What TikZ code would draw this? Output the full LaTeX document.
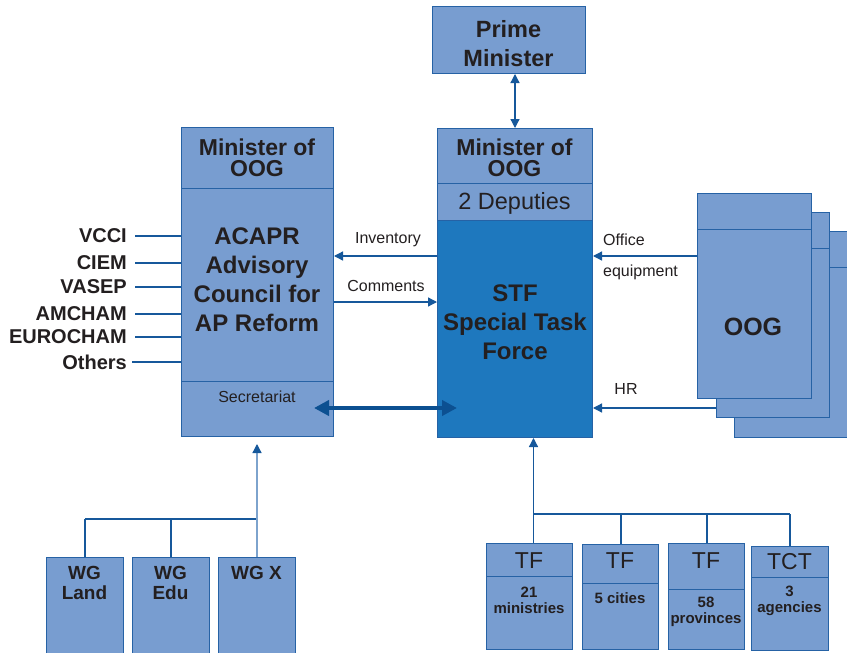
\documentclass[tikz,border=0pt]{standalone}
\usepackage{fontspec}
\setmainfont{Liberation Sans}
\usetikzlibrary{arrows.meta,calc}
\definecolor{lightc}{RGB}{120,157,208}
\definecolor{darkc}{RGB}{30,120,190}
\definecolor{bordc}{RGB}{38,98,165}
\definecolor{linec}{RGB}{22,88,155}
\definecolor{thickc}{RGB}{12,80,145}
\definecolor{wgline}{RGB}{125,163,205}
\definecolor{txt}{RGB}{35,31,32}
\begin{document}
\begin{tikzpicture}[x=1pt,y=-1pt,
  box/.style={draw=bordc, fill=lightc, line width=1pt, inner sep=0pt, anchor=north west},
  tx/.style={inner sep=0pt, text=txt, align=center},
  bigb/.style={tx, font=\bfseries\fontsize{24}{29}\selectfont},
  minb/.style={tx, font=\bfseries\fontsize{23}{21}\selectfont},
  lbl/.style={tx, font=\fontsize{16}{18}\selectfont},
  side/.style={inner sep=0pt, text=txt, anchor=east, font=\bfseries\fontsize{20}{22}\selectfont},
  tfh/.style={tx, font=\fontsize{23}{25}\selectfont},
  tfb/.style={tx, font=\bfseries\fontsize{15}{16}\selectfont},
  wgt/.style={tx, font=\bfseries\fontsize{19}{20.5}\selectfont},
  arr/.style={draw=linec, line width=1.3pt, -{Triangle[length=9pt,width=9pt]}},
  darr/.style={draw=linec, line width=1.3pt, {Triangle[length=9pt,width=9pt]}-{Triangle[length=9pt,width=9pt]}},
  conn/.style={draw=linec, line width=1.3pt},
  bus/.style={draw=linec, line width=2pt},
  thickarr/.style={draw=thickc, line width=4pt, {Triangle[length=15pt,width=15pt]}-{Triangle[length=15pt,width=15pt]}}
]
\clip (0,0) rectangle (847,653);
\fill[white] (0,0) rectangle (847,653);

% Prime Minister
\node[box, minimum width=153pt, minimum height=67pt] (pm) at (432,6) {};
\node[bigb, font=\bfseries\fontsize{23.5}{29}\selectfont] (pmtext) at (508.5,44) {Prime\\Minister};

% STF column
\node[box, minimum width=155pt, minimum height=55pt] (stfTop) at (437,128) {};
\node[box, minimum width=155pt, minimum height=37pt] (stfDep) at (437,183) {};
\node[box, fill=darkc, minimum width=155pt, minimum height=217pt] (stf) at (437,220) {};
\node[minb] (stfTopText) at (514.5,157.5) {Minister of\\OOG};
\node[tx, font=\fontsize{23.5}{25}\selectfont] (depText) at (514.5,203) {2 Deputies};
\node[bigb] (stfText) at (515,322.5) {STF\\Special Task\\Force};

% ACAPR column
\node[box, minimum width=152pt, minimum height=61pt] (acaprTop) at (181,127) {};
\node[box, minimum width=152pt, minimum height=193pt] (acaprMid) at (181,188) {};
\node[box, minimum width=152pt, minimum height=55pt] (acaprSec) at (181,381) {};
\node[minb] (acaprTopText) at (257,157.5) {Minister of\\OOG};
\node[bigb] (acaprText) at (257,280) {ACAPR\\Advisory\\Council for\\AP Reform};
\node[lbl] (secText) at (257,397) {Secretariat};

% OOG stack
\node[box, minimum width=140pt, minimum height=36pt] (oog3h) at (734,231) {};
\node[box, minimum width=140pt, minimum height=170pt] (oog3) at (734,267) {};
\node[box, minimum width=113pt, minimum height=36pt] (oog2h) at (716,212) {};
\node[box, minimum width=113pt, minimum height=169pt] (oog2) at (716,248) {};
\node[box, minimum width=114pt, minimum height=36pt] (oog1h) at (697,193) {};
\node[box, minimum width=114pt, minimum height=169pt] (oog1) at (697,229) {};
\node[tx, font=\bfseries\fontsize{25}{27}\selectfont] (oogText) at (753,327) {OOG};

% left side labels
\node[side] (vcci) at (127,236) {VCCI};
\node[side] (ciem) at (127,263) {CIEM};
\node[side] (vasep) at (127,287) {VASEP};
\node[side] (amcham) at (127,314) {AMCHAM};
\node[side] (eurocham) at (127,337) {EUROCHAM};
\node[side] (others) at (127,362) {Others};
\foreach \n/\s in {vcci/8,ciem/8,vasep/8,amcham/8,eurocham/8,others/5}
  \draw[conn] ([xshift=\s pt]\n.east) -- (\n.east -| acaprMid.west);

% arrows between columns
\coordinate (invY) at (0,256);
\coordinate (comY) at (0,302);
\coordinate (secY) at (0,408);
\coordinate (offY) at (0,256);
\coordinate (hrY) at (0,408);
\draw[arr] (stf.west |- invY) -- (acaprMid.east |- invY);
\draw[arr] (acaprMid.east |- comY) -- (stf.west |- comY);
\node[lbl] (invText) at (388,240) {Inventory};
\node[lbl] (comText) at (386,286) {Comments};
\coordinate (secL) at ([xshift=-20pt]acaprSec.east |- secY);
\coordinate (secR) at ([xshift=20pt]stf.west |- secY);
\draw[thickarr] (secL) -- (secR);
\draw[arr] (oog1.west |- offY) -- (stf.east |- offY);
\draw[arr] (oog2.west |- hrY) -- (stf.east |- hrY);
\node[lbl, anchor=west] (offText) at (603,240) {Office};
\node[lbl, anchor=west] (eqText) at (603,272) {equipment};
\node[lbl] (hrText) at (626,389) {HR};

% PM arrow
\draw[darr] (stfTop.north |- pm.south) -- (stfTop.north);

% TF boxes
\node[box, minimum width=86pt, minimum height=33pt] (tf1h) at (486,543) {};
\node[box, minimum width=86pt, minimum height=73pt] (tf1b) at (486,576) {};
\node[box, minimum width=76pt, minimum height=39pt] (tf2h) at (582,544) {};
\node[box, minimum width=76pt, minimum height=66pt] (tf2b) at (582,583) {};
\node[box, minimum width=76pt, minimum height=46pt] (tf3h) at (668,543) {};
\node[box, minimum width=76pt, minimum height=60pt] (tf3b) at (668,589) {};
\node[box, minimum width=77pt, minimum height=31pt] (tcth) at (751,546) {};
\node[box, minimum width=77pt, minimum height=73pt] (tctb) at (751,577) {};
\node[tfh] (tf1t) at (529,561) {TF};
\node[tfh] (tf2t) at (620,561) {TF};
\node[tfh] (tf3t) at (706,561) {TF};
\node[tfh] (tctt) at (789.5,562) {TCT};
\node[tfb] (tf1bt) at (529,600) {21\\ministries};
\node[tfb] (tf2bt) at (620,598) {5 cities};
\node[tfb] (tf3bt) at (706,612) {58\\provinces};
\node[tfb] (tctbt) at (789.5,601) {3\\agencies};

\coordinate (busR) at (0,514);
\coordinate (tfstem) at ([xshift=4pt]tf1h.north);
\draw[bus] (tfstem |- busR) -- (tcth.north |- busR);
\draw[bus] (tf2h.north |- busR) -- (tf2h.north);
\draw[bus] (tf3h.north |- busR) -- (tf3h.north);
\draw[bus] (tcth.north |- busR) -- (tcth.north);
\draw[arr] (tfstem) -- (tfstem |- stf.south);

% WG boxes
\node[box, minimum width=77pt, minimum height=110pt] (wgLand) at (46,557) {};
\node[box, minimum width=77pt, minimum height=110pt] (wgEdu) at (132,557) {};
\node[box, minimum width=77pt, minimum height=110pt] (wgX) at (218,557) {};
\node[wgt] (wgLandT) at (84.5,583) {WG\\Land};
\node[wgt] (wgEduT) at (170.5,583) {WG\\Edu};
\node[wgt] (wgXT) at (256.5,573) {WG X};
\coordinate (wgBus) at (0,519);
\draw[bus] (wgLand.north |- wgBus) -- (wgX.north |- wgBus);
\draw[conn] (wgLand.north) -- (wgLand.north |- wgBus);
\draw[bus] (wgEdu.north) -- (wgEdu.north |- wgBus);
\draw[draw=wgline, line width=1.3pt, -{Triangle[length=9pt,width=9pt,color=linec]}, shorten >=7pt] (wgX.north) -- (wgX.north |- acaprSec.south);
\end{tikzpicture}
\end{document}
